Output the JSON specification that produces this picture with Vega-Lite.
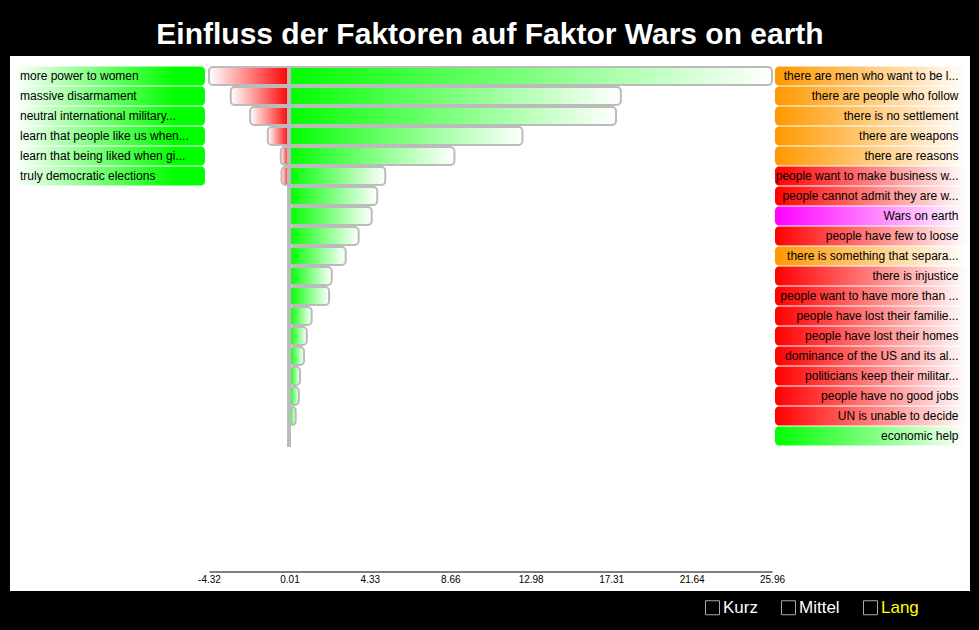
{
  "$schema": "https://vega.github.io/schema/vega-lite/v6.json",
  "width": 960,
  "height": 535,
  "autosize": {"type": "none"},
  "padding": {"left": 10, "top": 56, "right": 9, "bottom": 39},
  "background": "#000000",
  "view": {"fill": "#ffffff", "stroke": null},
  "config": {"view": {"fill": "#ffffff", "stroke": null}, "font": "Liberation Sans"},
  "title": {"text": "Einfluss der Faktoren auf Faktor Wars on earth", "color": "#ffffff", "fontSize": 30, "fontWeight": "bold", "font": "Liberation Sans", "anchor": "middle", "baseline": "alphabetic", "offset": -18},
  "datasets": {
    "rows": [
      {"row": 0, "left": "more power to women", "right": "there are men who want to be l...", "cat": "orange", "neg": -4.32, "pos": 25.96},
      {"row": 1, "left": "massive disarmament", "right": "there are people who follow", "cat": "orange", "neg": -3.15, "pos": 17.83},
      {"row": 2, "left": "neutral international military...", "right": "there is no settlement", "cat": "orange", "neg": -2.11, "pos": 17.57},
      {"row": 3, "left": "learn that people like us when...", "right": "there are weapons", "cat": "orange", "neg": -1.16, "pos": 12.54},
      {"row": 4, "left": "learn that being liked when gi...", "right": "there are reasons", "cat": "orange", "neg": -0.46, "pos": 8.88},
      {"row": 5, "left": "truly democratic elections", "right": "people want to make business w...", "cat": "red", "neg": -0.42, "pos": 5.16},
      {"row": 6, "left": null, "right": "people cannot admit they are w...", "cat": "red", "neg": 0, "pos": 4.73},
      {"row": 7, "left": null, "right": "Wars on earth", "cat": "magenta", "neg": 0, "pos": 4.43},
      {"row": 8, "left": null, "right": "people have few to loose", "cat": "red", "neg": 0, "pos": 3.73},
      {"row": 9, "left": null, "right": "there is something that separa...", "cat": "orange", "neg": 0, "pos": 3.03},
      {"row": 10, "left": null, "right": "there is injustice", "cat": "red", "neg": 0, "pos": 2.28},
      {"row": 11, "left": null, "right": "people want to have more than ...", "cat": "red", "neg": 0, "pos": 2.14},
      {"row": 12, "left": null, "right": "people have lost their familie...", "cat": "red", "neg": 0, "pos": 1.2},
      {"row": 13, "left": null, "right": "people have lost their homes", "cat": "red", "neg": 0, "pos": 0.94},
      {"row": 14, "left": null, "right": "dominance of the US and its al...", "cat": "red", "neg": 0, "pos": 0.79},
      {"row": 15, "left": null, "right": "politicians keep their militar...", "cat": "red", "neg": 0, "pos": 0.58},
      {"row": 16, "left": null, "right": "people have no good jobs", "cat": "red", "neg": 0, "pos": 0.51},
      {"row": 17, "left": null, "right": "UN is unable to decide", "cat": "red", "neg": 0, "pos": 0.34},
      {"row": 18, "left": null, "right": "economic help", "cat": "green", "neg": 0, "pos": 0}
    ],
    "legend": [{"term": "Kurz"}, {"term": "Mittel"}, {"term": "Lang"}]
  },
  "layer": [
    {
      "data": {"name": "rows"},
      "transform": [{"filter": "datum.left != null"}],
      "mark": {"type": "bar", "orient": "horizontal", "height": 19, "cornerRadius": 4,
        "fill": {"gradient": "linear", "x1": 0, "y1": 0, "x2": 1, "y2": 0, "stops": [{"offset": 0, "color": "#ffffff"}, {"offset": 0.85, "color": "#00ff00"}, {"offset": 1, "color": "#00ff00"}]}},
      "encoding": {
        "x": {"datum": -14.86, "type": "quantitative",
          "scale": {"domain": [-4.32, 25.96], "range": [199, 762], "nice": false, "zero": false, "padding": 0},
          "axis": {"values": [-4.32, 0.01, 4.33, 8.66, 12.98, 17.31, 21.64, 25.96], "format": ".2f", "labelExpr": "replace(datum.label, '\u2212', '-')", "ticks": false, "grid": false, "domainColor": "#000000", "domainWidth": 1, "labelColor": "#000000", "labelFontSize": 10, "labelFont": "Liberation Sans", "labelPadding": 3, "offset": -19.5, "title": null, "labelFlush": false, "labelOverlap": false}},
        "x2": {"datum": -4.535},
        "y": {"field": "row", "type": "quantitative", "scale": {"domain": [-1, 25.75], "range": [0, 535], "nice": false, "zero": false, "padding": 0}, "axis": null}
      }
    },
    {
      "data": {"name": "rows"},
      "transform": [{"filter": "datum.cat == 'orange'"}],
      "mark": {"type": "bar", "orient": "horizontal", "height": 19, "cornerRadius": 4,
        "fill": {"gradient": "linear", "x1": 0, "y1": 0, "x2": 1, "y2": 0, "stops": [{"offset": 0, "color": "#ff9900"}, {"offset": 1, "color": "#ffffff"}]}},
      "encoding": {"x": {"datum": 26.12, "type": "quantitative"}, "x2": {"datum": 36.5}, "y": {"field": "row", "type": "quantitative", "axis": null}}
    },
    {
      "data": {"name": "rows"},
      "transform": [{"filter": "datum.cat == 'red'"}],
      "mark": {"type": "bar", "orient": "horizontal", "height": 19, "cornerRadius": 4,
        "fill": {"gradient": "linear", "x1": 0, "y1": 0, "x2": 1, "y2": 0, "stops": [{"offset": 0, "color": "#ff0000"}, {"offset": 1, "color": "#ffffff"}]}},
      "encoding": {"x": {"datum": 26.12, "type": "quantitative"}, "x2": {"datum": 36.5}, "y": {"field": "row", "type": "quantitative", "axis": null}}
    },
    {
      "data": {"name": "rows"},
      "transform": [{"filter": "datum.cat == 'magenta'"}],
      "mark": {"type": "bar", "orient": "horizontal", "height": 19, "cornerRadius": 4,
        "fill": {"gradient": "linear", "x1": 0, "y1": 0, "x2": 1, "y2": 0, "stops": [{"offset": 0, "color": "#ff00ff"}, {"offset": 1, "color": "#ffffff"}]}},
      "encoding": {"x": {"datum": 26.12, "type": "quantitative"}, "x2": {"datum": 36.5}, "y": {"field": "row", "type": "quantitative", "axis": null}}
    },
    {
      "data": {"name": "rows"},
      "transform": [{"filter": "datum.cat == 'green'"}],
      "mark": {"type": "bar", "orient": "horizontal", "height": 19, "cornerRadius": 4,
        "fill": {"gradient": "linear", "x1": 0, "y1": 0, "x2": 1, "y2": 0, "stops": [{"offset": 0, "color": "#00ff00"}, {"offset": 1, "color": "#ffffff"}]}},
      "encoding": {"x": {"datum": 26.12, "type": "quantitative"}, "x2": {"datum": 36.5}, "y": {"field": "row", "type": "quantitative", "axis": null}}
    },
    {
      "data": {"name": "rows"},
      "transform": [{"filter": "datum.neg < 0"}],
      "mark": {"type": "bar", "orient": "horizontal", "height": 18, "cornerRadiusTopLeft": 4, "cornerRadiusBottomLeft": 4,
        "fill": {"gradient": "linear", "x1": 0, "y1": 0, "x2": 1, "y2": 0, "stops": [{"offset": 0, "color": "#ffffff"}, {"offset": 1, "color": "#ff0000"}]}},
      "encoding": {"x": {"field": "neg", "type": "quantitative"}, "x2": {"datum": 0}, "y": {"field": "row", "type": "quantitative", "axis": null}}
    },
    {
      "data": {"name": "rows"},
      "transform": [{"filter": "datum.pos > 0"}],
      "mark": {"type": "bar", "orient": "horizontal", "height": 18, "cornerRadiusTopRight": 4, "cornerRadiusBottomRight": 4,
        "fill": {"gradient": "linear", "x1": 0, "y1": 0, "x2": 1, "y2": 0, "stops": [{"offset": 0, "color": "#00ff00"}, {"offset": 1, "color": "#ffffff"}]}},
      "encoding": {"x": {"field": "pos", "type": "quantitative"}, "x2": {"datum": 0}, "y": {"field": "row", "type": "quantitative", "axis": null}}
    },
    {
      "data": {"name": "rows"},
      "transform": [{"filter": "datum.pos > 0"}],
      "mark": {"type": "bar", "orient": "horizontal", "height": 18, "cornerRadius": 4, "fillOpacity": 0, "stroke": "#bbbbbb", "strokeWidth": 2},
      "encoding": {"x": {"field": "neg", "type": "quantitative"}, "x2": {"field": "pos"}, "y": {"field": "row", "type": "quantitative", "axis": null}}
    },
    {
      "data": {"name": "rows"},
      "mark": {"type": "rule", "color": "#bbbbbb", "strokeWidth": 3},
      "encoding": {"x": {"datum": 0, "type": "quantitative"}, "y": {"datum": -0.5, "type": "quantitative", "axis": null}, "y2": {"datum": 18.55}}
    },
    {
      "data": {"name": "rows"},
      "transform": [{"filter": "datum.left != null"}],
      "mark": {"type": "text", "align": "left", "baseline": "middle", "fontSize": 12, "font": "Liberation Sans", "color": "#000000"},
      "encoding": {"x": {"datum": -14.485, "type": "quantitative"}, "y": {"field": "row", "type": "quantitative", "axis": null}, "text": {"field": "left", "type": "nominal"}}
    },
    {
      "data": {"name": "rows"},
      "mark": {"type": "text", "align": "right", "baseline": "middle", "fontSize": 12, "font": "Liberation Sans", "color": "#000000"},
      "encoding": {"x": {"datum": 35.99, "type": "quantitative"}, "y": {"field": "row", "type": "quantitative", "axis": null}, "text": {"field": "right", "type": "nominal"}}
    },
    {
      "data": {"name": "legend"},
      "mark": {"type": "point", "opacity": 0, "color": "#aaaaaa", "filled": false},
      "encoding": {
        "shape": {"field": "term", "type": "nominal", "sort": ["Kurz", "Mittel", "Lang"], "scale": {"range": ["square", "square", "square"]},
          "legend": {"orient": "none", "legendX": 694, "legendY": 543, "direction": "horizontal", "title": null, "padding": 0,
            "symbolType": "square", "symbolSize": 196, "symbolStrokeColor": "#aaaaaa", "symbolStrokeWidth": 1, "symbolOpacity": 1, "symbolFillColor": "transparent",
            "labelColor": {"expr": "datum.label === 'Lang' ? '#ffff00' : '#ffffff'"}, "labelFontSize": 17, "labelFont": "Liberation Sans", "labelOffset": 2, "columnPadding": 21, "labelLimit": 200}}
      }
    }
  ]
}
